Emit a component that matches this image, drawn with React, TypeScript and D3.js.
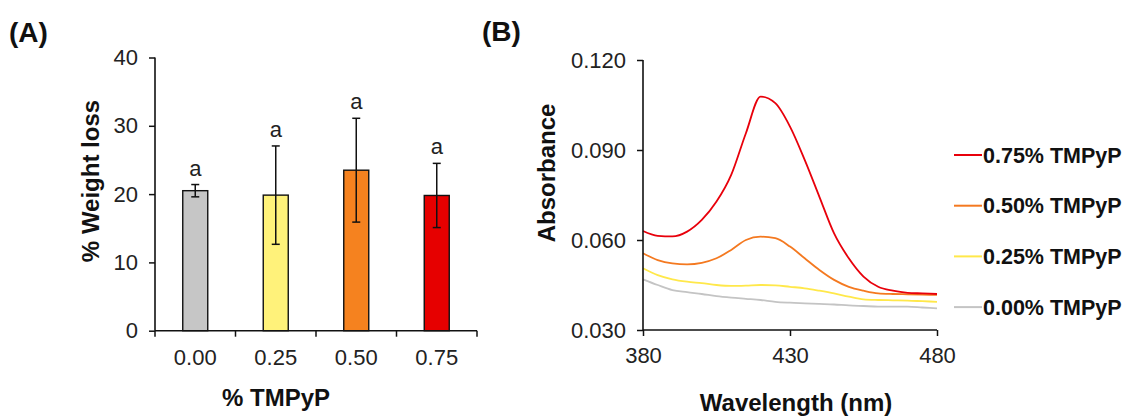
import React, {useEffect, useRef} from "react";
import * as d3 from "d3";

// panel A: weight loss vs TMPyP
const categories = ["0.00", "0.25", "0.50", "0.75"];
const weightLoss = [20.5, 19.85, 23.5, 19.8];
const weightSd = [0.9, 7.2, 7.6, 4.7];
const letters = ["a", "a", "a", "a"];
const barColors = ["#c6c6c6", "#fff27a", "#f5821f", "#e60000"];

// panel B: absorbance spectra
const wavelengths = [380, 385, 390, 395, 400, 405, 410, 415, 420, 425, 430, 435, 440, 445, 450, 455, 460, 465, 470, 475, 480];
const abs075 = [0.0630, 0.0614, 0.0612, 0.0628, 0.0667, 0.0728, 0.0817, 0.0956, 0.1078, 0.1056, 0.0978, 0.0867, 0.0744, 0.0622, 0.0539, 0.0478, 0.0444, 0.0431, 0.0424, 0.0422, 0.0420];
const abs050 = [0.0556, 0.0533, 0.0522, 0.0519, 0.0524, 0.0539, 0.0567, 0.0600, 0.0611, 0.0606, 0.0578, 0.0539, 0.0500, 0.0467, 0.0444, 0.0431, 0.0422, 0.0420, 0.0419, 0.0418, 0.0417];
const abs025 = [0.0506, 0.0483, 0.0469, 0.0461, 0.0456, 0.0450, 0.0447, 0.0448, 0.0450, 0.0449, 0.0444, 0.0439, 0.0431, 0.0422, 0.0411, 0.0402, 0.0400, 0.0399, 0.0398, 0.0396, 0.0394];
const abs000 = [0.0469, 0.0450, 0.0433, 0.0426, 0.0420, 0.0413, 0.0408, 0.0404, 0.0400, 0.0394, 0.0391, 0.0389, 0.0387, 0.0385, 0.0382, 0.0380, 0.0378, 0.0378, 0.0378, 0.0375, 0.0372];
const seriesNames = ["0.75% TMPyP", "0.50% TMPyP", "0.25% TMPyP", "0.00% TMPyP"];
const lineColors = ["#e8000b", "#f47920", "#ffe84a", "#c4c4c4"];
const absTicks = [0.03, 0.06, 0.09, 0.12];
const waveTicks = [380, 430, 480];

const font = "Arial, 'Liberation Sans', sans-serif";

export default function App() {
  const svgRef = useRef<SVGSVGElement>(null);

  useEffect(() => {
    const svg = d3.select(svgRef.current);
    svg.selectAll("*").remove();
    svg.attr("font-family", font);

    // ---------- panel A ----------
    const a = svg.append("g");
    const xA = d3.scaleBand().domain(categories).range([155, 477]);
    const yA = d3.scaleLinear().domain([0, 40]).range([330.7, 57.5]);
    const barW = 25;

    a.selectAll("rect.bar")
      .data(weightLoss)
      .join("rect")
      .attr("x", (d, i) => xA(categories[i])! + xA.bandwidth() / 2 - barW / 2)
      .attr("y", (d) => yA(d))
      .attr("width", barW)
      .attr("height", (d) => yA(0) - yA(d))
      .attr("fill", (d, i) => barColors[i])
      .attr("stroke", "#111")
      .attr("stroke-width", 1.4);

    const err = a.selectAll("g.err").data(weightLoss).join("g")
      .attr("transform", (d, i) => "translate(" + (xA(categories[i])! + xA.bandwidth() / 2) + ",0)");
    err.append("line")
      .attr("y1", (d, i) => yA(d + weightSd[i]))
      .attr("y2", (d, i) => yA(d - weightSd[i]))
      .attr("stroke", "#111").attr("stroke-width", 1.5);
    err.append("line")
      .attr("x1", -4).attr("x2", 4)
      .attr("y1", (d, i) => yA(d + weightSd[i]))
      .attr("y2", (d, i) => yA(d + weightSd[i]))
      .attr("stroke", "#111").attr("stroke-width", 1.5);
    err.append("line")
      .attr("x1", -4).attr("x2", 4)
      .attr("y1", (d, i) => yA(d - weightSd[i]))
      .attr("y2", (d, i) => yA(d - weightSd[i]))
      .attr("stroke", "#111").attr("stroke-width", 1.5);
    err.append("text")
      .attr("y", (d, i) => yA(d + weightSd[i]) - 9)
      .attr("text-anchor", "middle")
      .attr("font-size", 22)
      .attr("fill", "#222")
      .text((d, i) => letters[i]);

    // y axis
    const yAxisA = a.append("g")
      .attr("transform", "translate(155,0)")
      .call(d3.axisLeft(yA).tickValues([0, 10, 20, 30, 40]).tickSize(6).tickPadding(11));
    yAxisA.select(".domain").attr("stroke", "#111").attr("stroke-width", 1.6).attr("d", `M0,${yA(40)}V${yA(0)}`);
    yAxisA.selectAll(".tick line").attr("stroke", "#111").attr("stroke-width", 1.5);
    yAxisA.selectAll(".tick text").attr("font-size", 22).attr("fill", "#222").attr("font-family", font);

    // x axis, ticks between categories
    const bounds = [155, ...categories.map((c) => xA(c)! + xA.bandwidth())];
    a.append("line")
      .attr("x1", 155).attr("x2", 477).attr("y1", yA(0)).attr("y2", yA(0))
      .attr("stroke", "#111").attr("stroke-width", 1.6);
    a.selectAll("line.xt").data(bounds).join("line")
      .attr("x1", (d) => d).attr("x2", (d) => d)
      .attr("y1", yA(0)).attr("y2", yA(0) + 6)
      .attr("stroke", "#111").attr("stroke-width", 1.5);
    a.selectAll("text.xl").data(categories).join("text")
      .attr("x", (d) => xA(d)! + xA.bandwidth() / 2)
      .attr("y", 357)
      .attr("dy", "0.35em")
      .attr("text-anchor", "middle")
      .attr("font-size", 22)
      .attr("fill", "#222")
      .text((d) => d);

    a.append("text")
      .attr("x", 276).attr("y", 398).attr("dy", "0.35em")
      .attr("text-anchor", "middle").attr("font-size", 24).attr("font-weight", "bold")
      .attr("fill", "#111").text("% TMPyP");
    a.append("text")
      .attr("transform", "translate(91,181) rotate(-90)").attr("dy", "0.35em")
      .attr("text-anchor", "middle").attr("font-size", 24).attr("font-weight", "bold")
      .attr("fill", "#111").text("% Weight loss");
    a.append("text")
      .attr("x", 9).attr("y", 32).attr("dy", "0.35em")
      .attr("font-size", 28).attr("font-weight", "bold")
      .attr("fill", "#111").text("(A)");

    // ---------- panel B ----------
    const b = svg.append("g");
    const xB = d3.scaleLinear().domain([380, 480]).range([643, 937]);
    const yB = d3.scaleLinear().domain([0.03, 0.12]).range([330, 60]);
    const series = [abs075, abs050, abs025, abs000];

    const line = d3.line<number>()
      .x((d, i) => xB(wavelengths[i]))
      .y((d) => yB(d))
      .curve(d3.curveMonotoneX);

    // draw lower series first so red sits on top
    [3, 2, 1, 0].forEach((k) => {
      b.append("path")
        .datum(series[k])
        .attr("d", line)
        .attr("fill", "none")
        .attr("stroke", lineColors[k])
        .attr("stroke-width", 1.8);
    });

    const yAxisB = b.append("g")
      .attr("transform", "translate(643,0)")
      .call(d3.axisLeft(yB).tickValues(absTicks).tickFormat(d3.format(".3f")).tickSize(6).tickPadding(11));
    yAxisB.select(".domain").attr("stroke", "#111").attr("stroke-width", 1.6).attr("d", `M0,${yB(0.12)}V${yB(0.03)}`);
    yAxisB.selectAll(".tick line").attr("stroke", "#111").attr("stroke-width", 1.5);
    yAxisB.selectAll(".tick text").attr("font-size", 22).attr("fill", "#222").attr("font-family", font);

    const xAxisB = b.append("g")
      .attr("transform", "translate(0," + yB(0.03) + ")")
      .call(d3.axisBottom(xB).tickValues(waveTicks).tickFormat(d3.format("d")).tickSize(6).tickPadding(11));
    xAxisB.select(".domain").attr("stroke", "#111").attr("stroke-width", 1.6).attr("d", `M${xB(380)},0H${xB(480)}`);
    xAxisB.selectAll(".tick line").attr("stroke", "#111").attr("stroke-width", 1.5);
    xAxisB.selectAll(".tick text").attr("font-size", 22).attr("fill", "#222").attr("font-family", font);

    b.append("text")
      .attr("x", 796).attr("y", 403).attr("dy", "0.35em")
      .attr("text-anchor", "middle").attr("font-size", 24).attr("font-weight", "bold")
      .attr("fill", "#111").text("Wavelength (nm)");
    b.append("text")
      .attr("transform", "translate(547,173) rotate(-90)").attr("dy", "0.35em")
      .attr("text-anchor", "middle").attr("font-size", 24).attr("font-weight", "bold")
      .attr("fill", "#111").text("Absorbance");
    b.append("text")
      .attr("x", 482).attr("y", 31).attr("dy", "0.35em")
      .attr("font-size", 28).attr("font-weight", "bold")
      .attr("fill", "#111").text("(B)");

    // legend
    const leg = b.selectAll("g.leg").data(seriesNames).join("g")
      .attr("transform", (d, i) => "translate(954," + (155 + i * 50.7) + ")");
    leg.append("line")
      .attr("x1", 0).attr("x2", 28)
      .attr("stroke", (d, i) => lineColors[i]).attr("stroke-width", 2);
    leg.append("text")
      .attr("x", 29).attr("dy", "0.35em")
      .attr("font-size", 21.5).attr("font-weight", "bold")
      .attr("fill", "#111").text((d) => d);
  }, []);

  return (
    <svg ref={svgRef} width={1124} height={416}
         style={{position: "absolute", left: 0, top: 0, background: "#fff"}} />
  );
}
